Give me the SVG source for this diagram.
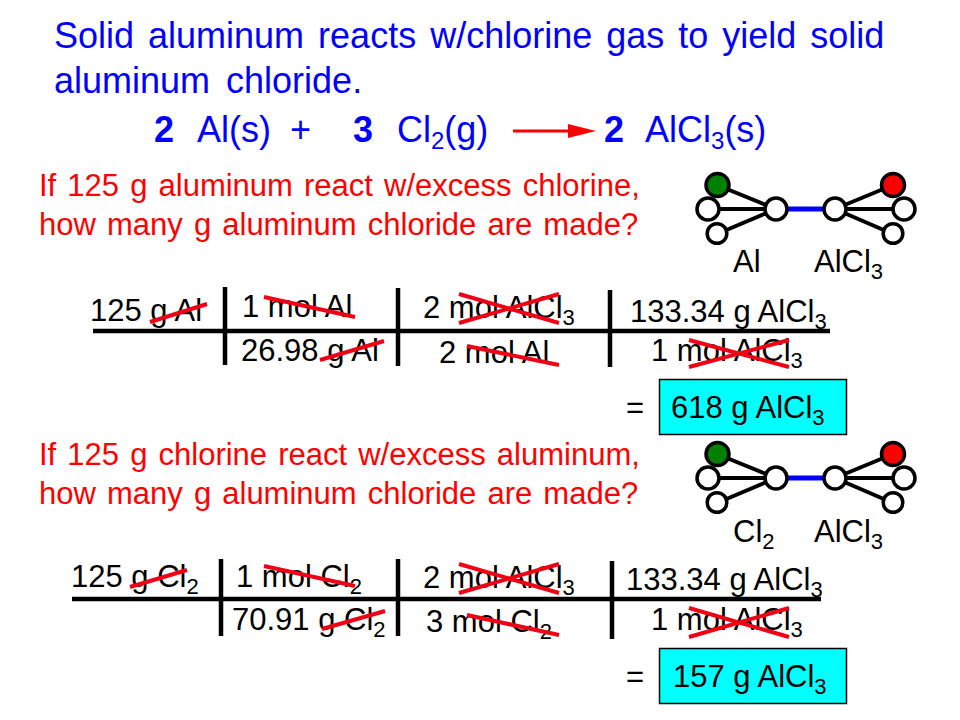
<svg xmlns="http://www.w3.org/2000/svg" width="960" height="720" viewBox="0 0 960 720">
<style>
text{font-family:"Liberation Sans",Arial,sans-serif;fill:#000;white-space:pre}
.t{font-size:36px;fill:#00f}
.e{font-size:36px;fill:#00f}
.eb{font-weight:bold;fill:#00f}
.es{font-size:24px;fill:#00f}
.q{font-size:31px;fill:#f00;word-spacing:2.500px}
.k{font-size:31px}
.s{font-size:22px}
.bar{stroke:#000;stroke-width:4.500;fill:none}
.x{stroke:#f00014;stroke-width:4;fill:none}
.a{fill:#fff;stroke:#000;stroke-width:3.500}
.b{stroke:#000;stroke-width:4;fill:none}
.m{stroke:#00f;stroke-width:5;fill:none}
.box{fill:#0ff;stroke:#000;stroke-width:1.500}
</style>
<defs>
<g id="mol">
<path class="b" d="M717 185L776 209M708 209H776M717 234L776 209M835 209L893 185M835 209H904M835 209L893 234"/>
<path class="m" d="M788 209H823"/>
<circle class="a" cx="708" cy="209" r="11"/>
<circle class="a" cx="717" cy="233.500" r="9.800"/>
<circle class="a" cx="776" cy="209" r="11"/>
<circle class="a" cx="835" cy="209" r="11"/>
<circle class="a" cx="904" cy="209" r="11"/>
<circle class="a" cx="893" cy="233.500" r="9.800"/>
<circle class="a" cx="717.500" cy="185" r="11.500" style="fill:#008000"/>
<circle class="a" cx="893" cy="185" r="11.500" style="fill:#f00"/>
</g>
</defs>
<g id="heading">
<text class="t" x="54" y="47.500" word-spacing="4">Solid aluminum reacts w/chlorine gas to yield solid</text>
<text class="t" x="54" y="92.500" word-spacing="6">aluminum chloride.</text>
</g>
<g id="equation">
<text class="e eb" x="154" y="142">2</text>
<text class="e" x="197" y="142">Al(s)</text>
<text class="e" x="290" y="142">+</text>
<text class="e eb" x="353" y="142">3</text>
<text class="e" x="397" y="142">Cl<tspan class="es" dy="7">2</tspan><tspan dy="-7">(g)</tspan></text>
<text class="e eb" x="604" y="142">2</text>
<text class="e" x="645" y="142">AlCl<tspan class="es" dy="7">3</tspan><tspan dy="-7">(s)</tspan></text>
</g>
<g id="connectors">
<path d="M513 131H572" stroke="#f00" stroke-width="3" fill="none"/>
<path d="M596 131L568 124V138Z" fill="#f00"/>
</g>
<g id="question-1">
<text class="q" x="39" y="195.500">If 125 g aluminum react w/excess chlorine,</text>
<text class="q" x="39" y="234.500">how many g aluminum chloride are made?</text>
</g>
<g id="molecule-1">
<use href="#mol"/>
<text class="k" x="733" y="272">Al</text>
<text class="k" x="814" y="272">AlCl<tspan class="s" dy="7">3</tspan></text>
</g>
<g id="factor-1">
<path class="bar" d="M93 331H830M225 287V365M398 288V366M610 290V367"/>
<text class="k" x="90" y="321">125 g Al</text>
<text class="k" x="242" y="317">1 mol Al</text>
<text class="k" x="241" y="361">26.98 g Al</text>
<text class="k" x="423" y="318">2 mol AlCl<tspan class="s" dy="7">3</tspan></text>
<text class="k" x="439" y="363">2 mol Al</text>
<text class="k" x="630" y="321.500">133.34 g AlCl<tspan class="s" dy="7">3</tspan></text>
<text class="k" x="651" y="361">1 mol AlCl<tspan class="s" dy="7">3</tspan></text>
<path class="x" d="M150 322L207 304M264 297L355 317M320 360L384 341M459 294L559 323M459 323L559 294M467 346L559 365M689 340L789 367M689 367L789 340"/>
</g>
<g id="result-1">
<text class="k" x="626" y="418">=</text>
<rect class="box" x="659.500" y="379.500" width="187" height="55"/>
<text class="k" x="671" y="418">618 g AlCl<tspan class="s" dy="7">3</tspan></text>
</g>
<g id="question-2">
<text class="q" x="39" y="464.500">If 125 g chlorine react w/excess aluminum,</text>
<text class="q" x="39" y="503.500">how many g aluminum chloride are made?</text>
</g>
<g id="molecule-2">
<use href="#mol" y="269"/>
<text class="k" x="733" y="542">Cl<tspan class="s" dy="7">2</tspan></text>
<text class="k" x="814" y="542">AlCl<tspan class="s" dy="7">3</tspan></text>
</g>
<g id="factor-2">
<path class="bar" d="M72 599H821M221 559V636M398 559V636M612 561V639"/>
<text class="k" x="71" y="587">125 g Cl<tspan class="s" dy="7">2</tspan></text>
<text class="k" x="236" y="587">1 mol Cl<tspan class="s" dy="7">2</tspan></text>
<text class="k" x="232" y="630">70.91 g Cl<tspan class="s" dy="7">2</tspan></text>
<text class="k" x="423" y="588">2 mol AlCl<tspan class="s" dy="7">3</tspan></text>
<text class="k" x="426" y="632">3 mol Cl<tspan class="s" dy="7">2</tspan></text>
<text class="k" x="626" y="590">133.34 g AlCl<tspan class="s" dy="7">3</tspan></text>
<text class="k" x="651" y="630">1 mol AlCl<tspan class="s" dy="7">3</tspan></text>
<path class="x" d="M130 587L187 570M264 566L355 586M322 629L385 611M459 564L559 593M459 593L559 564M467 615L559 635M689 608L789 637M689 637L789 608"/>
</g>
<g id="result-2">
<text class="k" x="626" y="687">=</text>
<rect class="box" x="659.500" y="648.500" width="187" height="55"/>
<text class="k" x="673" y="687">157 g AlCl<tspan class="s" dy="7">3</tspan></text>
</g>
</svg>
